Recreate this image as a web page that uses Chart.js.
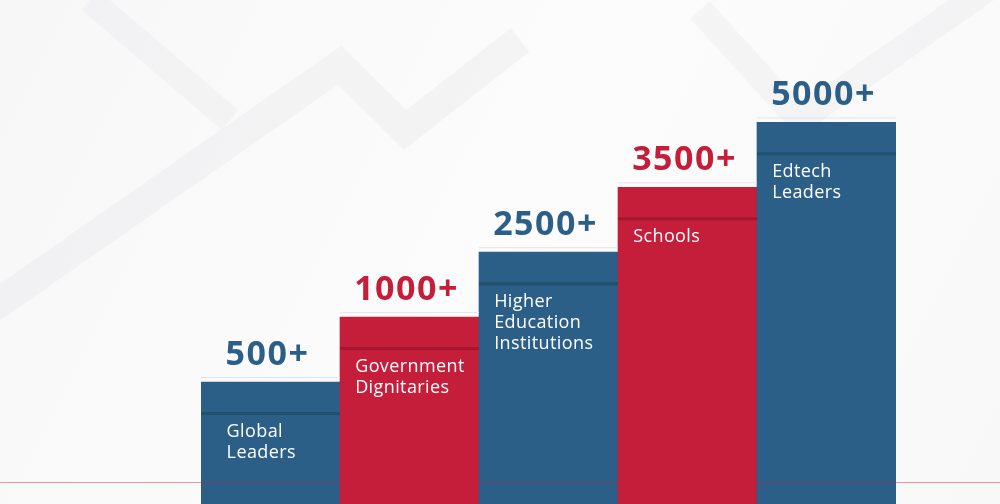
<!DOCTYPE html>
<html>
<head>
<meta charset="utf-8">
<script src="https://cdn.jsdelivr.net/npm/chart.js@4.4.1/dist/chart.umd.min.js"></script>
<style>
  html, body { margin: 0; padding: 0; background: #fafafa; }
  #wrap { width: 1000px; height: 504px; position: relative; }
</style>
</head>
<body>
<div id="wrap"><canvas id="c" width="1000" height="504"></canvas></div>
<script>
// ---- data ----
const categories = [
  ['Global', 'Leaders'],
  ['Government', 'Dignitaries'],
  ['Higher', 'Education', 'Institutions'],
  ['Schools'],
  ['Edtech', 'Leaders']
];
const valueLabels = ['500+', '1000+', '2500+', '3500+', '5000+'];
const stepLevels = [1, 2, 3, 4, 5];
const barColors = ['#2c5f87', '#c41e3a', '#2c5f87', '#c41e3a', '#2c5f87'];
const stripeColors = ['#22506f', '#a5172f', '#22506f', '#a5172f', '#22506f'];

const bgPlugin = {
  id: 'bg',
  beforeDraw(chart) {
    const ctx = chart.ctx;
    const W = chart.width, H = chart.height;
    ctx.save();
    const g = ctx.createLinearGradient(0, 0, W, H);
    g.addColorStop(0, '#f7f7f8');
    g.addColorStop(0.5, '#fcfcfc');
    g.addColorStop(1, '#f8f8f9');
    ctx.fillStyle = g;
    ctx.fillRect(0, 0, W, H);
    // very faint zigzag arrow decorations
    ctx.lineCap = 'butt';
    ctx.lineJoin = 'miter';
    ctx.strokeStyle = 'rgba(228,228,231,0.35)';
    ctx.lineWidth = 30;
    ctx.beginPath();
    ctx.moveTo(-40, 330);
    ctx.lineTo(340, 65);
    ctx.lineTo(405, 130);
    ctx.lineTo(520, 40);
    ctx.stroke();
    ctx.strokeStyle = 'rgba(230,230,233,0.3)';
    ctx.lineWidth = 26;
    ctx.beginPath();
    ctx.moveTo(90, 0);
    ctx.lineTo(230, 120);
    ctx.stroke();
    ctx.beginPath();
    ctx.moveTo(700, 10);
    ctx.lineTo(800, 120);
    ctx.lineTo(1000, -20);
    ctx.stroke();
    ctx.restore();
  }
};

const decoPlugin = {
  id: 'deco',
  afterDatasetsDraw(chart) {
    const ctx = chart.ctx;
    const meta = chart.getDatasetMeta(0);
    ctx.save();
    // thin light line above each bar
    meta.data.forEach((bar) => {
      const left = bar.x - bar.width / 2;
      ctx.fillStyle = 'rgba(225,226,232,0.9)';
      ctx.fillRect(left, bar.y - 5, bar.width, 1);
    });
    // red baseline across the page
    ctx.fillStyle = 'rgba(196,30,58,0.45)';
    ctx.fillRect(0, 482, chart.width, 1);
    meta.data.forEach((bar, i) => {
      const left = bar.x - bar.width / 2;
      const top = bar.y;
      // darker stripe
      ctx.fillStyle = stripeColors[i];
      ctx.fillRect(left, top + 30, bar.width, 3);
      // value label
      ctx.font = 'bold 34px "Open Sans", "DejaVu Sans", sans-serif';
      ctx.letterSpacing = '1.5px';
      ctx.fillStyle = barColors[i];
      ctx.textBaseline = 'alphabetic';
      ctx.textAlign = 'left';
      const w = ctx.measureText(valueLabels[i]).width;
      const tx = bar.x - 3 - w / 2;
      ctx.fillText(valueLabels[i], tx, top - 17);
      // category label
      ctx.font = '18px "Open Sans", "DejaVu Sans", sans-serif';
      ctx.letterSpacing = '0.4px';
      ctx.fillStyle = '#ffffff';
      categories[i].forEach((line, j) => {
        ctx.fillText(line, tx + 1, top + 55 + j * 21);
      });
    });
    ctx.restore();
  }
};

new Chart(document.getElementById('c'), {
  type: 'bar',
  data: {
    labels: valueLabels,
    datasets: [{
      data: stepLevels,
      base: -0.88,
      backgroundColor: barColors,
      borderWidth: 0,
      barPercentage: 1.0,
      categoryPercentage: 1.0
    }]
  },
  options: {
    responsive: false,
    animation: false,
    layout: { padding: { left: 201, right: 104, top: 0, bottom: 0 } },
    plugins: { legend: { display: false }, tooltip: { enabled: false } },
    scales: {
      x: { display: false },
      y: { display: false, min: -0.88, max: 6.886 }
    }
  },
  plugins: [bgPlugin, decoPlugin]
});
</script>
</body>
</html>
